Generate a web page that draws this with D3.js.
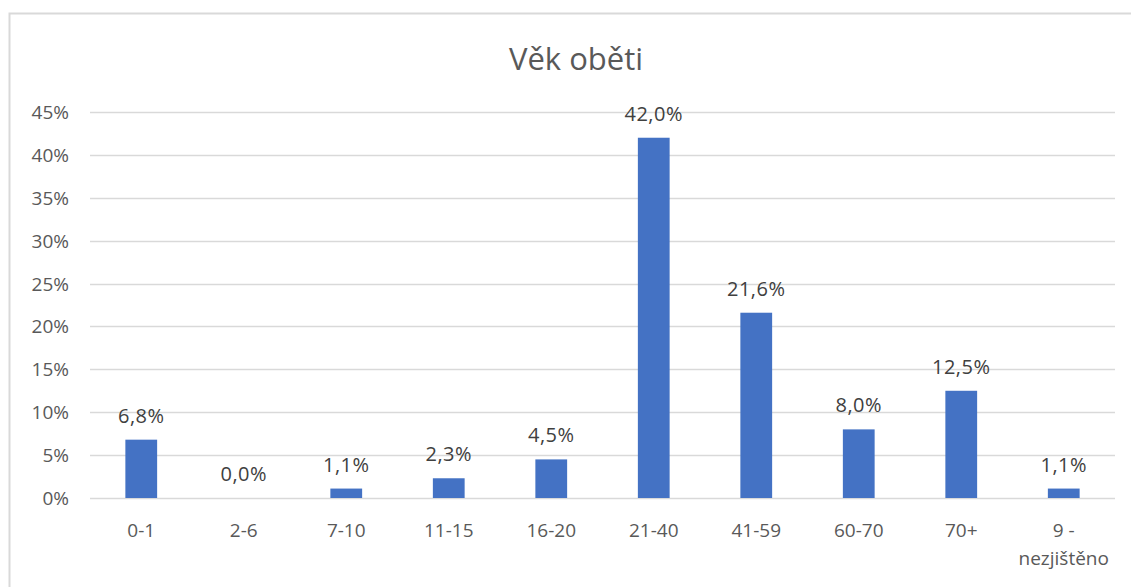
<!DOCTYPE html>
<html>
<head>
<meta charset="utf-8">
<script src="https://cdn.jsdelivr.net/npm/d3@7"></script>
<style>
  body { margin: 0; background: #fff; }
  svg { display: block; font-family: "Segoe UI", "Open Sans", "Noto Sans", sans-serif; }
</style>
</head>
<body>
<div id="main-container"></div>
<script>
var categories = ["0-1", "2-6", "7-10", "11-15", "16-20", "21-40", "41-59", "60-70", "70+", "9 - nezjištěno"];
var values = [6.8, 0.0, 1.1, 2.3, 4.5, 42.0, 21.6, 8.0, 12.5, 1.1];
var yTicks = [0, 5, 10, 15, 20, 25, 30, 35, 40, 45];

var chartW = 1131, chartH = 587;
var plotLeft = 90, plotRight = 1115, plotTop = 112, plotBottom = 498;

var svg = d3.select("#main-container")
    .append("svg")
    .attr("width", chartW)
    .attr("height", chartH);

// chart frame
svg.append("rect")
    .attr("x", 9.5).attr("y", 13.5)
    .attr("width", 1140).attr("height", 600)
    .attr("fill", "none")
    .attr("stroke", "#d9d9d9")
    .attr("stroke-width", 2);

svg.append("text")
    .attr("x", 576).attr("y", 70)
    .attr("text-anchor", "middle")
    .attr("font-size", "31px")
    .attr("fill", "#595959")
    .text("Věk oběti");

var x = d3.scaleBand().domain(categories).range([plotLeft, plotRight]).paddingInner(0.69).paddingOuter(0.345);
var y = d3.scaleLinear().domain([0, 45]).range([plotBottom, plotTop]);

// gridlines
svg.append("g")
    .selectAll("line")
    .data(yTicks)
    .enter()
    .append("line")
    .attr("x1", plotLeft).attr("x2", plotRight)
    .attr("y1", function(d) { return Math.round(y(d)) + 0.5; })
    .attr("y2", function(d) { return Math.round(y(d)) + 0.5; })
    .attr("stroke", "#d9d9d9")
    .attr("stroke-width", 1.5);

// y tick labels
svg.append("g")
    .selectAll("text")
    .data(yTicks)
    .enter()
    .append("text")
    .attr("x", 69)
    .attr("y", function(d) { return y(d) + 7; })
    .attr("text-anchor", "end")
    .attr("font-size", "19px")
    .attr("fill", "#595959")
    .text(function(d) { return d + "%"; });

// bars
svg.append("g")
    .selectAll("rect")
    .data(values)
    .enter()
    .append("rect")
    .attr("x", function(d, i) { return x(categories[i]); })
    .attr("y", function(d) { return y(d); })
    .attr("width", x.bandwidth())
    .attr("height", function(d) { return y(0) - y(d); })
    .attr("fill", "#4472c4");

// data labels
svg.append("g")
    .selectAll("text")
    .data(values)
    .enter()
    .append("text")
    .attr("x", function(d, i) { return x(categories[i]) + x.bandwidth() / 2; })
    .attr("y", function(d) { return y(d) - 17; })
    .attr("text-anchor", "middle")
    .attr("font-size", "20px")
    .attr("letter-spacing", "0.5px")
    .attr("fill", "#404040")
    .text(function(d) { return d.toFixed(1).replace(".", ",") + "%"; });

// x category labels (wrap on " - ")
var xl = svg.append("g")
    .selectAll("text")
    .data(categories)
    .enter()
    .append("text")
    .attr("x", function(d) { return x(d) + x.bandwidth() / 2; })
    .attr("y", 537)
    .attr("text-anchor", "middle")
    .attr("font-size", "19px")
    .attr("fill", "#595959");

xl.each(function(d) {
    var parts = d.indexOf(" - ") > 0 ? [d.split(" - ")[0] + " -", d.split(" - ")[1]] : [d];
    var t = d3.select(this);
    parts.forEach(function(p, j) {
        t.append("tspan")
            .attr("x", t.attr("x"))
            .attr("dy", j === 0 ? 0 : 28)
            .text(p);
    });
});
</script>
</body>
</html>
